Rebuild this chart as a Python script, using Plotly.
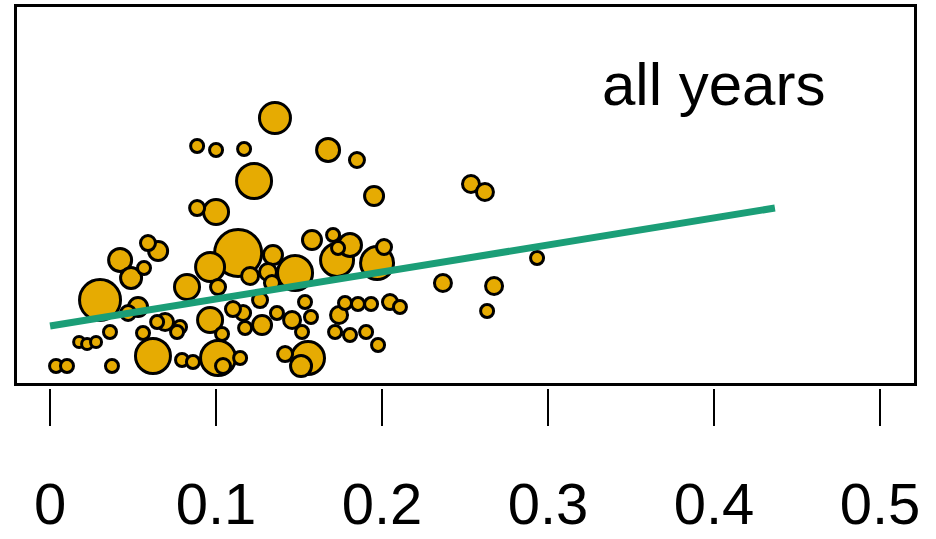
import plotly.graph_objects as go

# Bubble data: x value, y value, bubble diameter (px)
x_vals = [
    0.1355, 0.0886, 0.1000, 0.1169, 0.1675, 0.1849, 0.1229, 0.1952, 0.2536, 0.2620,
    0.0886, 0.1000, 0.1133, 0.0590, 0.0651, 0.0422, 0.0566, 0.0488, 0.0301, 0.0825,
    0.1012, 0.0964, 0.1343, 0.1476, 0.1205, 0.1313, 0.1578, 0.1705, 0.1729, 0.1807,
    0.1735, 0.1970, 0.2012, 0.2367, 0.2675, 0.2633, 0.2934, 0.0036, 0.0102, 0.0373,
    0.0175, 0.0223, 0.0277, 0.0361, 0.0620, 0.0530, 0.0470, 0.0693, 0.0783, 0.0560,
    0.0795, 0.0861, 0.0964, 0.1012, 0.1042, 0.1145, 0.1163, 0.1175, 0.1277, 0.1265,
    0.1367, 0.1458, 0.1536, 0.1572, 0.1518, 0.1554, 0.1512, 0.1416, 0.1777, 0.1855,
    0.1934, 0.2048, 0.2108, 0.1741, 0.1717, 0.1807, 0.1904, 0.1976, 0.1337, 0.1036,
    0.0765, 0.1102, 0.0645,
]
y_vals = [
    0.7048, 0.6303, 0.6197, 0.6223, 0.6197, 0.5931, 0.5372, 0.4973, 0.5293, 0.5080,
    0.4654, 0.4548, 0.3457, 0.3723, 0.3511, 0.3271, 0.3059, 0.2793, 0.2207, 0.2553,
    0.2553, 0.3085, 0.3404, 0.2926, 0.2846, 0.2952, 0.3803, 0.3936, 0.3271, 0.3670,
    0.3590, 0.3191, 0.3617, 0.2660, 0.2580, 0.1915, 0.3324, 0.0452, 0.0452, 0.0452,
    0.1090, 0.1037, 0.1090, 0.1356, 0.0718, 0.2021, 0.1862, 0.1622, 0.1489, 0.1330,
    0.0612, 0.0559, 0.1676, 0.0665, 0.0452, 0.0665, 0.1862, 0.1463, 0.1543, 0.2207,
    0.1862, 0.1676, 0.2154, 0.1755, 0.1356, 0.0665, 0.0452, 0.0771, 0.2128, 0.2101,
    0.2101, 0.2154, 0.2021, 0.1809, 0.1356, 0.1277, 0.1356, 0.1011, 0.2660, 0.1303,
    0.1356, 0.1968, 0.1622,
]
diam_vals = [
    34, 16, 16, 16, 26, 18, 38, 22, 20, 20,
    18, 28, 50, 18, 22, 26, 16, 24, 44, 28,
    18, 32, 22, 38, 20, 20, 22, 16, 36, 26,
    16, 36, 18, 20, 20, 16, 16, 16, 16, 16,
    14, 14, 14, 16, 38, 22, 18, 20, 16, 16,
    16, 16, 28, 38, 18, 16, 18, 16, 22, 18,
    16, 20, 16, 16, 16, 36, 24, 18, 16, 16,
    16, 18, 16, 20, 16, 16, 16, 16, 18, 16,
    16, 18, 16,
]

# Fitted trend line
fit_x = [0.0, 0.4367]
fit_y = [0.1516, 0.4654]

tick_vals = [0, 0.1, 0.2, 0.3, 0.4, 0.5]
tick_text = ["0", "0.1", "0.2", "0.3", "0.4", "0.5"]

FILL = "#E6AB02"
LINE_GREEN = "#1B9E77"
EDGE_W = 3

# Draw the largest bubbles first so small ones sit on top
order = sorted(range(len(x_vals)), key=lambda i: -diam_vals[i])
bx = [x_vals[i] for i in order]
by = [y_vals[i] for i in order]
bs = [max(diam_vals[i] - EDGE_W, 2) for i in order]

fig = go.Figure()
fig.add_trace(go.Scatter(
    x=bx, y=by, mode="markers",
    marker=dict(size=bs, color=FILL, line=dict(color="black", width=EDGE_W), opacity=1),
    hoverinfo="skip", showlegend=False,
))
fig.add_trace(go.Scatter(
    x=fit_x, y=fit_y, mode="lines",
    line=dict(color=LINE_GREEN, width=7),
    hoverinfo="skip", showlegend=False,
))
# invisible trace so the detached tick axis is rendered
fig.add_trace(go.Scatter(
    x=[0, 0.5], y=[0, 0], xaxis="x2", yaxis="y", mode="markers",
    marker=dict(size=1, opacity=0), hoverinfo="skip", showlegend=False,
))

x_range = [-0.0199, 0.5205]

fig.update_layout(
    width=936, height=539,
    margin=dict(l=0, r=0, t=0, b=0, autoexpand=False),
    paper_bgcolor="white", plot_bgcolor="white",
    xaxis=dict(
        domain=[0.0182, 0.9765], range=x_range, automargin=False,
        showline=True, linecolor="black", linewidth=3, mirror=True,
        showgrid=False, zeroline=False, ticks="", showticklabels=False,
    ),
    xaxis2=dict(
        matches="x", anchor="free", position=0.2801, overlaying="x",
        range=x_range, automargin=False, showline=False, showgrid=False, zeroline=False,
        ticks="outside", ticklen=37, tickwidth=2, tickcolor="black",
        tickmode="array", tickvals=tick_vals, ticktext=tick_text,
        ticklabelstandoff=28,
        tickfont=dict(family="Liberation Sans, Arial", size=58, color="black"),
    ),
    yaxis=dict(
        domain=[0.2894, 0.9870], range=[0, 1], automargin=False,
        showline=True, linecolor="black", linewidth=3, mirror=True,
        showgrid=False, zeroline=False, ticks="", showticklabels=False,
    ),
    annotations=[dict(
        text="all years", xref="paper", yref="paper",
        x=0.7628, y=(539 - 85) / 539, xanchor="center", yanchor="middle",
        showarrow=False,
        font=dict(family="Liberation Sans, Arial", size=60, color="black"),
    )],
)

fig.write_html("out.html")
